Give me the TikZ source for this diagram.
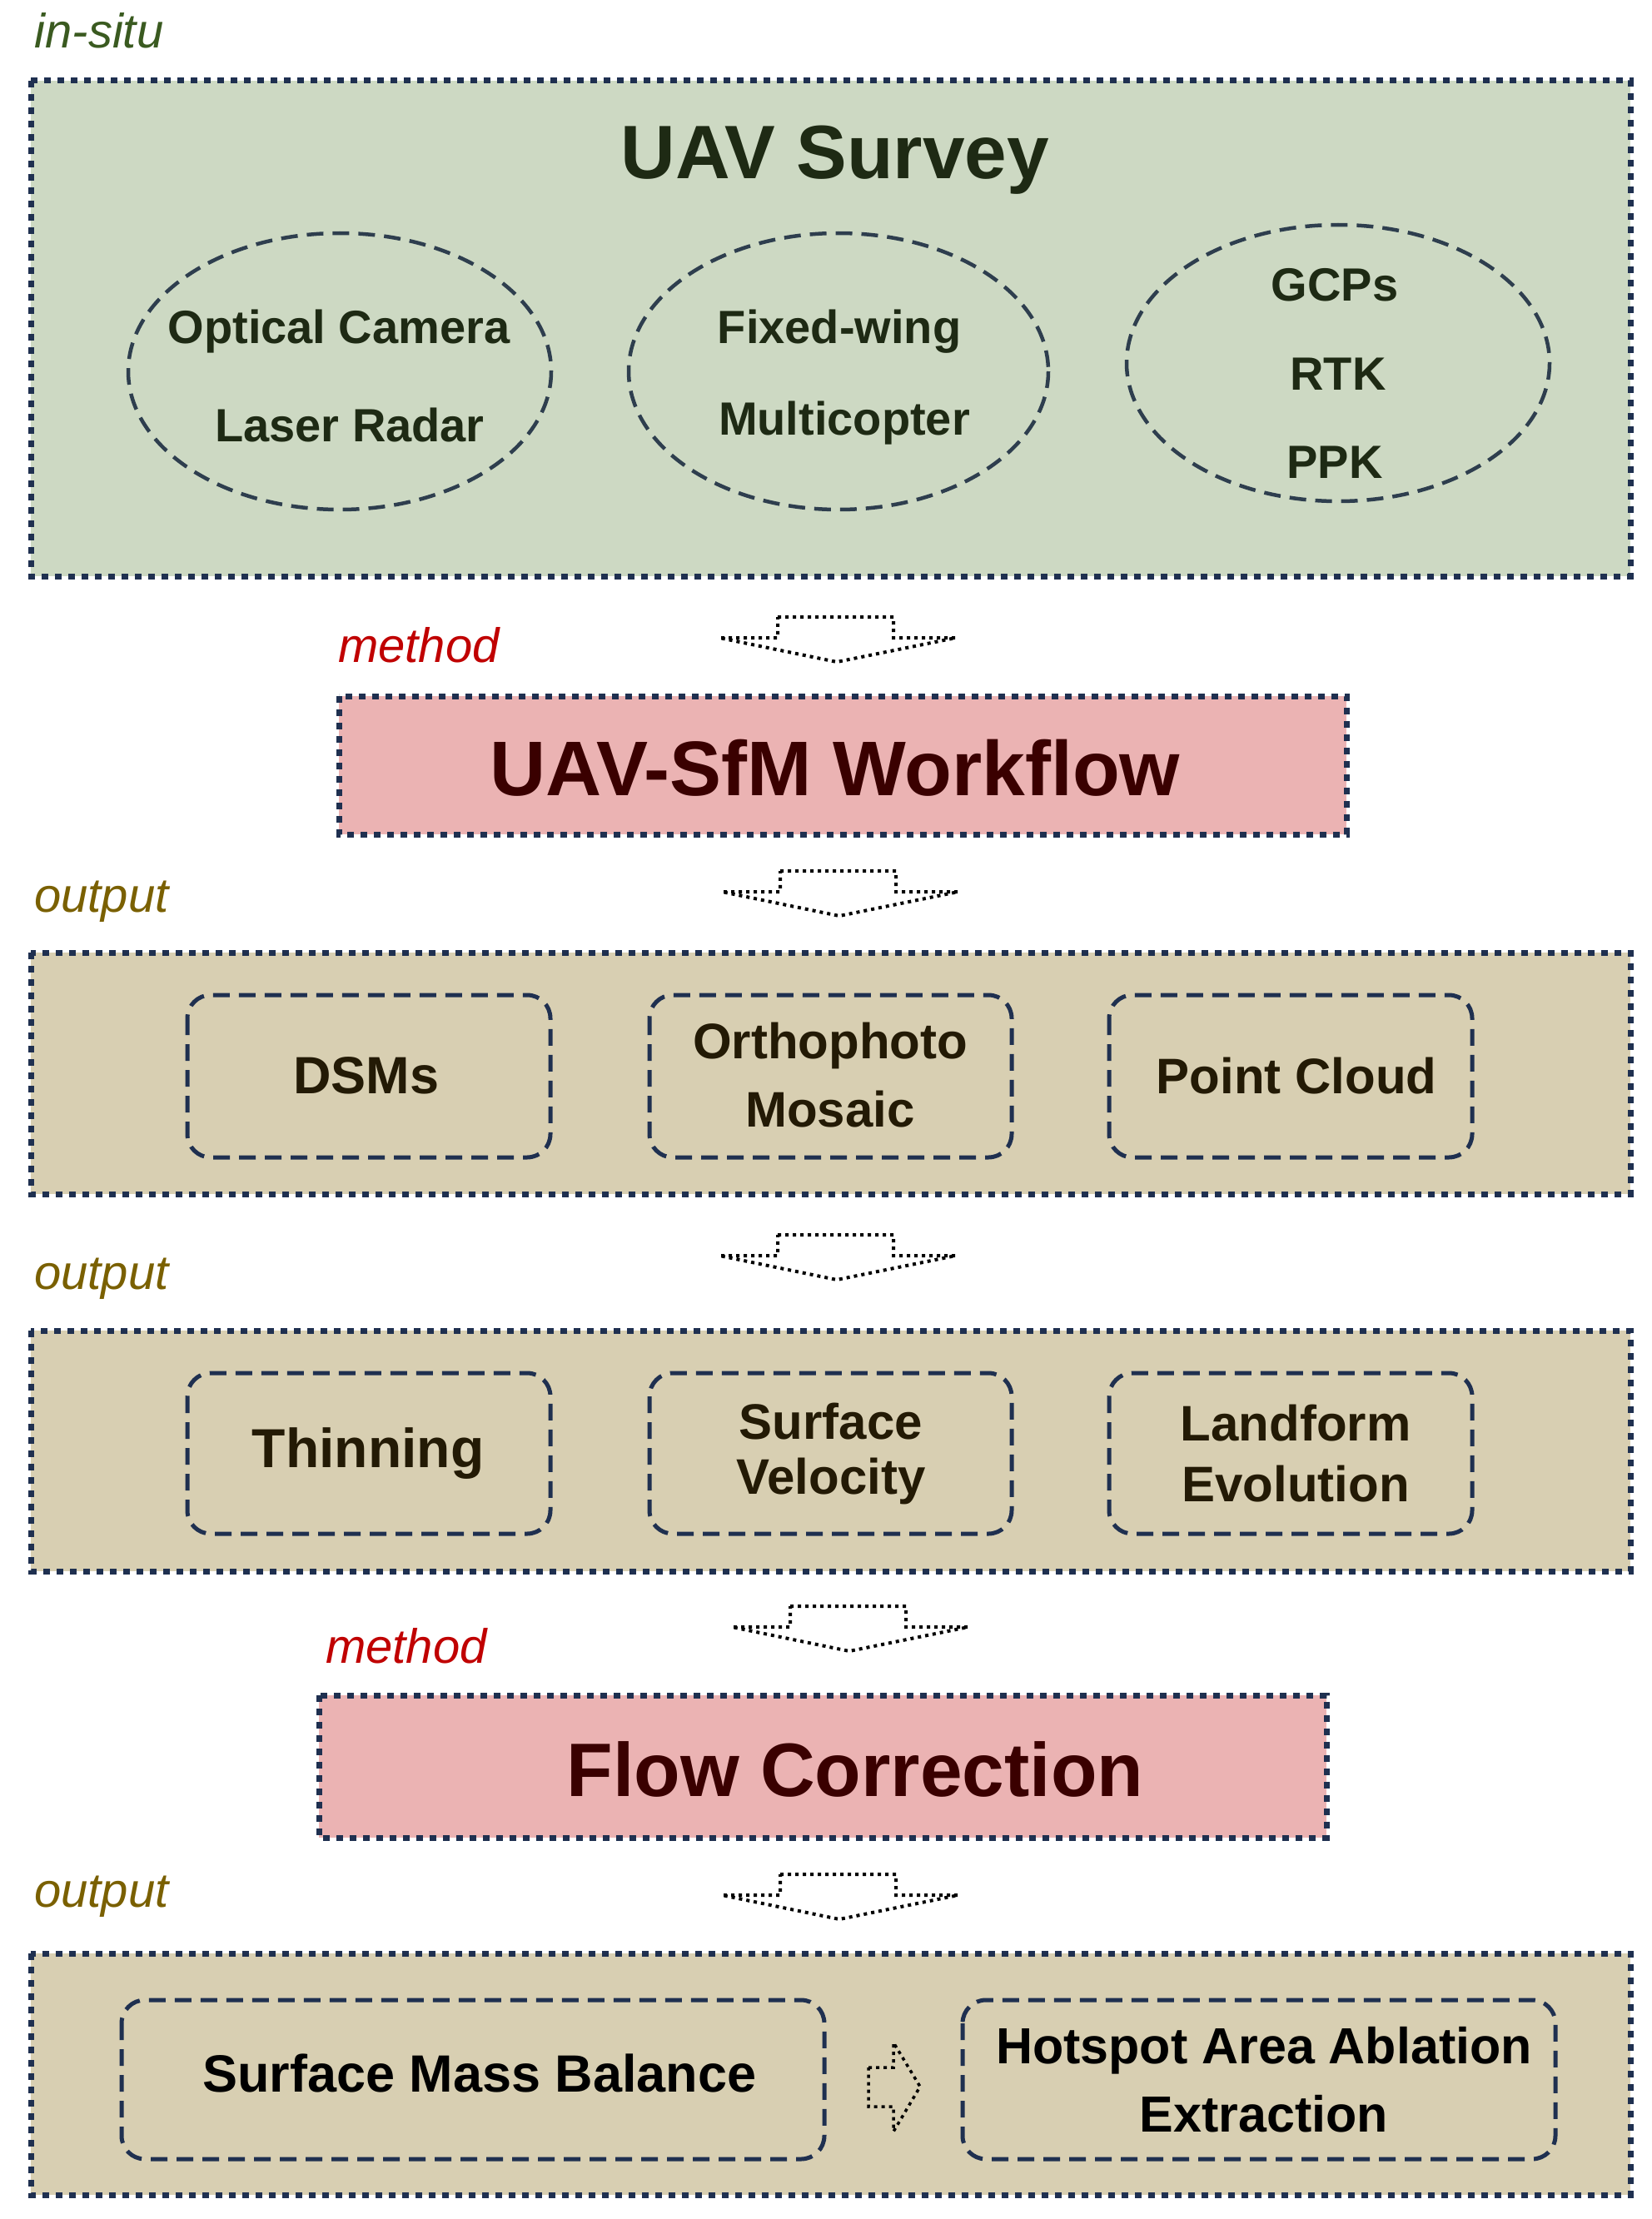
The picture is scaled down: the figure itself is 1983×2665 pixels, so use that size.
\documentclass[tikz,border=0pt]{standalone}
\usepackage{fontspec}
\setmainfont{Liberation Sans}
\begin{document}
\begin{tikzpicture}[x=1pt,y=-1pt,
  bigbox/.style={draw=navy,line width=7pt,dash pattern=on 8pt off 8pt},
  inner/.style={draw=navy,line width=5pt,dash pattern=on 20pt off 11pt,rounded corners=28pt,fill=none},
  ell/.style={draw=ellc,line width=4.5pt,dash pattern=on 20pt off 11pt},
  blk/.style={draw=black,line width=4pt,dash pattern=on 4pt off 5pt},
  lab/.style={font=\itshape\fontsize{58}{60}\selectfont,anchor=center},
  t56/.style={font=\bfseries\fontsize{56}{60}\selectfont,text=ettext},
  t60/.style={font=\bfseries\fontsize{60}{64}\selectfont,text=outtext,align=center}]
\definecolor{navy}{HTML}{1F3050}
\definecolor{ellc}{HTML}{2E3E4E}
\definecolor{gfill}{HTML}{CDD9C3}
\definecolor{pfill}{HTML}{EBB3B3}
\definecolor{tfill}{HTML}{D8CFB2}
\definecolor{ettext}{HTML}{1E2A14}
\definecolor{outtext}{HTML}{231A05}
\definecolor{redt}{HTML}{C00000}
\definecolor{olivet}{HTML}{7A6000}
\definecolor{greent}{HTML}{3A5A20}
\definecolor{maroon}{HTML}{3A0000}
\useasboundingbox (0,0) rectangle (1983,2665);
\fill[white] (0,0) rectangle (1983,2665);
\newcommand{\downarr}[2]{%
 \draw[blk] (#1-71,#2) -- (#1+68,#2) -- (#1+68,#2+25) -- (#1+143,#2+25) -- (#1,#2+54) -- (#1-141,#2+25) -- (#1-71,#2+25) -- cycle;}
% top box
\node[lab,text=greent] (insitu) at (119,37) {in-situ};
\draw[bigbox,fill=gfill] (37,97) rectangle (1958,692);
\node[font=\bfseries\fontsize{91}{100}\selectfont,text=ettext] (uav) at (1003,192) {UAV Survey};
\draw[ell] (408,446) ellipse [x radius=254,y radius=166];
\draw[ell] (1007,446) ellipse [x radius=252,y radius=166];
\draw[ell] (1607,436) ellipse [x radius=254,y radius=166];
\node[t56] (oc) at (407,398) {Optical Camera};
\node[t56] (lr) at (420,510) {Laser Radar};
\node[t56] (fw) at (1008,398) {Fixed-wing};
\node[t56] (mc) at (1014,508) {Multicopter};
\node[t56] (gcp) at (1603,342) {GCPs};
\node[t56] (rtk) at (1607,449) {RTK};
\node[t56] (ppk) at (1603,555) {PPK};
\downarr{1005}{741}
\node[lab,text=redt] (m1) at (503,775) {method};
\draw[bigbox,fill=pfill] (407,836) rectangle (1617,1002);
\node[font=\bfseries\fontsize{93}{100}\selectfont,text=maroon] (sfm) at (1003,922) {UAV-SfM Workflow};
\downarr{1008}{1046}
\node[lab,text=olivet] (o1) at (122,1083) {output};
% box 2
\draw[bigbox,fill=tfill] (37,1144) rectangle (1958,1434);
\draw[inner] (225,1195) rectangle (661,1390);
\draw[inner] (780,1195) rectangle (1215,1390);
\draw[inner] (1332,1195) rectangle (1768,1390);
\node[t60,font=\bfseries\fontsize{63}{66}\selectfont] (dsm) at (440,1292) {DSMs};
\node[t60] (or) at (997,1256) {Orthophoto};
\node[t60] (mo) at (997,1332) {Mosaic};
\node[t60] (pc) at (1557,1292) {Point Cloud};
\downarr{1005}{1483}
\node[lab,text=olivet] (o2) at (122,1536) {output};
% box 3
\draw[bigbox,fill=tfill] (37,1598) rectangle (1958,1887);
\draw[inner] (225,1649) rectangle (661,1842);
\draw[inner] (780,1649) rectangle (1215,1842);
\draw[inner] (1332,1649) rectangle (1768,1842);
\node[t60,font=\bfseries\fontsize{66}{70}\selectfont] (thin) at (442,1746) {Thinning};
\node[t60] (su) at (998,1707) {Surface};
\node[t60] (ve) at (998,1779) {Velocity};
\node[t60] (la) at (1556,1709) {Landform};
\node[t60] (ev) at (1556,1782) {Evolution};
\downarr{1020}{1929}
\node[lab,text=redt] (m2) at (488,1977) {method};
\draw[bigbox,fill=pfill] (383,2036) rectangle (1593,2207);
\node[font=\bfseries\fontsize{91}{100}\selectfont,text=maroon] (fc) at (1027,2125) {Flow Correction};
\downarr{1008}{2251}
\node[lab,text=olivet] (o3) at (122,2278) {output};
% box 5
\draw[bigbox,fill=tfill] (37,2346) rectangle (1958,2636);
\draw[inner] (146,2402) rectangle (990,2593);
\draw[inner] (1156,2402) rectangle (1868,2593);
\node[t60,font=\bfseries\fontsize{63}{66}\selectfont,text=black] (smb) at (576,2490) {Surface Mass Balance};
\node[t60,font=\bfseries\fontsize{61}{66}\selectfont,text=black] (hs1) at (1518,2463) {Hotspot Area Ablation};
\node[t60,font=\bfseries\fontsize{61}{66}\selectfont,text=black] (hs2) at (1518,2539) {Extraction};
\draw[blk,line width=3.5pt] (1043,2483) -- (1073,2483) -- (1073,2453) -- (1105,2506) -- (1073,2560) -- (1073,2530) -- (1043,2530) -- cycle;
\end{tikzpicture}
\end{document}
